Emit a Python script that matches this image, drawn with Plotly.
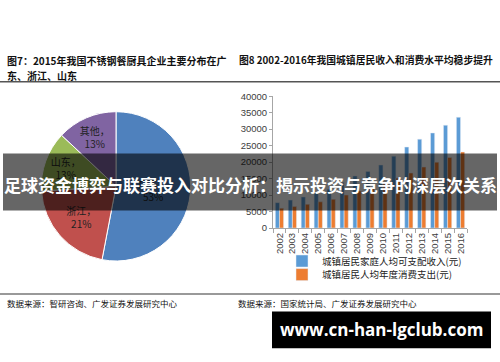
import plotly.graph_objects as go

# ---- data ----
pie_labels = ["广东", "浙江", "山东", "其他"]
pie_values = [53, 21, 13, 13]
pie_colors = ["#4F81BD", "#C0504D", "#9BBB59", "#8064A2"]

years = [str(y) for y in range(2002, 2017)]
income = [7703, 8472, 9422, 10493, 11759, 13786, 15781, 17175, 19109, 21810,
          24565, 26955, 28844, 31195, 33616]
consumption = [6030, 6511, 7182, 7943, 8697, 9997, 11243, 12265, 13471, 15161,
               16674, 18488, 19968, 21392, 23079]
series_names = ["城镇居民家庭人均可支配收入(元)", "城镇居民人均年度消费支出(元)"]

W, H = 500, 362
def px(x): return x / W
def py(y): return 1 - y / H

CJK = "Noto Sans CJK SC"

fig = go.Figure()

pie_text = [f"{l}，<br>{v}%" for l, v in zip(pie_labels, pie_values)]
fig.add_trace(go.Pie(
    labels=pie_labels, values=pie_values, sort=False, direction="clockwise",
    rotation=0, marker=dict(colors=pie_colors, line=dict(color="white", width=1)),
    text=pie_text, textinfo="text", textposition="inside",
    insidetextorientation="horizontal",
    textfont=dict(family=CJK, size=10, color="#222"),
    domain=dict(x=[px(39), px(193)], y=[py(263), py(109)]),
    showlegend=False, hoverinfo="skip",
))

fig.add_trace(go.Bar(x=years, y=income, name=series_names[0], legend="legend",
                     marker_color="#5B9BD5", xaxis="x", yaxis="y"))
fig.add_trace(go.Bar(x=years, y=consumption, name=series_names[1], legend="legend2",
                     marker_color="#ED7D31", xaxis="x", yaxis="y"))

leg_common = dict(xanchor="left", yanchor="middle",
                  font=dict(family=CJK, size=9.5, color="#222"),
                  bgcolor="rgba(0,0,0,0)", itemwidth=30)

fig.update_layout(
    width=W, height=H, margin=dict(l=0, r=0, t=0, b=0),
    paper_bgcolor="white", plot_bgcolor="white",
    barmode="group", bargap=0.36, bargroupgap=0,
    xaxis=dict(domain=[px(273), px(467)], anchor="y", showgrid=False,
               showline=True, linecolor="#A6A6A6", linewidth=1,
               ticks="outside", tickson="boundaries", ticklen=4, tickcolor="#A6A6A6",
               tickangle=-90, tickfont=dict(family="Arial", size=9.5, color="#404040")),
    yaxis=dict(domain=[py(229), py(93)], anchor="x", range=[0, 40000], dtick=5000,
               tickformat="d",
               showgrid=False, showline=True, linecolor="#A6A6A6", linewidth=1,
               ticks="outside", ticklen=3, tickcolor="#A6A6A6",
               tickfont=dict(family="Arial", size=9.5, color="#404040")),
    legend=dict(x=px(282), y=py(263), **leg_common),
    legend2=dict(x=px(282), y=py(277), **leg_common),
)

shapes = [
    dict(type="line", xref="paper", yref="paper", x0=0, x1=1, y0=py(78), y1=py(78),
         line=dict(color="#555", width=1.5)),
    dict(type="line", xref="paper", yref="paper", x0=0, x1=1, y0=py(297), y1=py(297),
         line=dict(color="#999", width=2)),
    dict(type="rect", xref="paper", yref="paper", x0=px(3), x1=px(497), y0=py(211), y1=py(152),
         fillcolor="rgba(0,0,0,0.6)", line=dict(width=0), layer="above"),
    dict(type="rect", xref="paper", yref="paper", x0=px(272), x1=px(491), y0=py(353), y1=py(315),
         fillcolor="black", line=dict(width=0), layer="above"),
]
fig.update_layout(shapes=shapes)

ann = [
    dict(text="<b>图7：2015年我国不锈钢餐厨具企业主要分布在广</b>", x=px(5), y=py(56), size=10),
    dict(text="<b>东、浙江、山东</b>", x=px(5), y=py(72), size=10),
    dict(text="<b>图8 2002-2016年我国城镇居民收入和消费水平均稳步提升</b>", x=px(237), y=py(56), size=9.8),
    dict(text="数据来源：智研咨询、广发证券发展研究中心", x=px(5), y=py(306), size=8.5),
    dict(text="数据来源：国家统计局、广发证券发展研究中心", x=px(236), y=py(306), size=8.5),
]
annotations = []
for a in ann:
    annotations.append(dict(text=a["text"], x=a["x"], y=a["y"], xref="paper", yref="paper",
                            xanchor="left", yanchor="middle", showarrow=False,
                            font=dict(family=CJK, size=a["size"], color="#111")))
annotations.append(dict(text="<b>足球资金博弈与联赛投入对比分析：揭示投资与竞争的深层次关系</b>",
                        x=0.5, y=py(184), xref="paper", yref="paper", xanchor="center",
                        yanchor="middle", showarrow=False,
                        font=dict(family=CJK, size=17, color="white")))
annotations.append(dict(text="<b>www.cn-han-lgclub.com</b>", x=px(381), y=py(334), xref="paper",
                        yref="paper", xanchor="center", yanchor="middle", showarrow=False,
                        font=dict(family="Open Sans", size=17, color="white")))
fig.update_layout(annotations=annotations)

fig.write_html("out.html")
